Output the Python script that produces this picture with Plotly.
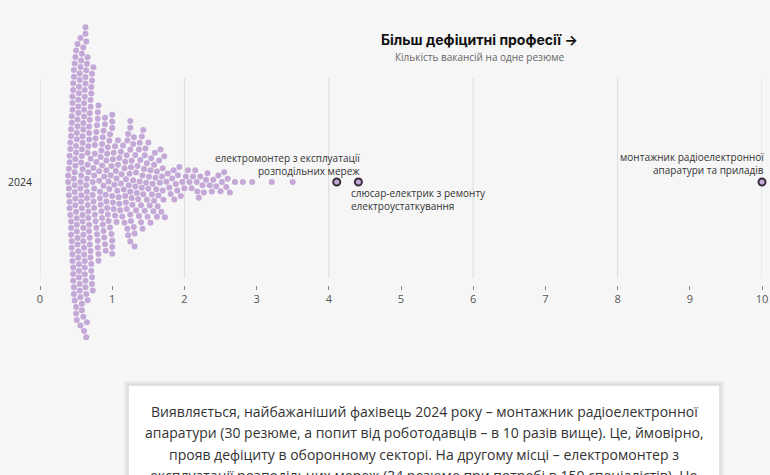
import math
import plotly.graph_objects as go

# ---------------- data ----------------
year_label = "2024"
tick_values = [0, 1, 2, 3, 4, 5, 6, 7, 8, 9, 10]
grid_values = [0, 2, 4, 6, 8, 10]

ratios_low = [
    0.39, 0.39,
    0.40, 0.40, 0.40,
    0.41, 0.41, 0.41, 0.41,
    0.42, 0.42, 0.42,
    0.43, 0.43, 0.43, 0.43, 0.43,
    0.44, 0.44, 0.44, 0.44,
    0.45, 0.45, 0.45, 0.45, 0.45,
    0.46, 0.46, 0.46, 0.46, 0.46,
    0.47, 0.47, 0.47, 0.47, 0.47,
    0.48, 0.48, 0.48, 0.48, 0.48,
    0.49, 0.49, 0.49, 0.49, 0.49,
    0.50, 0.50, 0.50, 0.50, 0.50, 0.50,
    0.51, 0.51, 0.51, 0.51, 0.51, 0.51,
    0.52, 0.52, 0.52, 0.52, 0.52,
    0.53, 0.53, 0.53, 0.53, 0.53,
    0.54, 0.54, 0.54, 0.54, 0.54,
    0.55, 0.55, 0.55, 0.55,
    0.56, 0.56, 0.56, 0.56, 0.56, 0.56,
    0.57, 0.57, 0.57, 0.57, 0.57,
    0.58, 0.58, 0.58, 0.58, 0.58, 0.58,
    0.59, 0.59, 0.59, 0.59, 0.59,
    0.60, 0.60, 0.60, 0.60, 0.60, 0.60, 0.60,
    0.61, 0.61, 0.61, 0.61, 0.61, 0.61,
    0.62, 0.62, 0.62, 0.62, 0.62,
    0.63, 0.63, 0.63, 0.63, 0.63, 0.63,
    0.64, 0.64, 0.64, 0.64, 0.64,
    0.65, 0.65, 0.65, 0.65, 0.65,
]

ratios_mid = [
    0.66, 0.66, 0.66, 0.66, 0.66,
    0.67, 0.67, 0.67, 0.67,
    0.68, 0.68, 0.68, 0.68, 0.68,
    0.69, 0.69, 0.69, 0.69,
    0.70, 0.70, 0.70, 0.70, 0.70,
    0.71, 0.71, 0.71, 0.71,
    0.72, 0.72, 0.72, 0.72,
    0.73, 0.73, 0.73,
    0.74, 0.74, 0.74,
    0.75, 0.75, 0.75,
    0.76, 0.76, 0.76,
    0.77, 0.77,
    0.78, 0.78, 0.78,
    0.79, 0.79,
    0.80, 0.80, 0.80, 0.80,
    0.81, 0.81, 0.81,
    0.82, 0.82,
    0.83, 0.83,
    0.84, 0.84,
    0.85, 0.85,
    0.86, 0.86, 0.86,
    0.87, 0.87,
    0.88, 0.88, 0.88,
    0.89, 0.89,
    0.90, 0.90, 0.90,
    0.91, 0.91,
    0.92, 0.92, 0.92,
    0.93, 0.93,
    0.94, 0.94,
    0.95, 0.95,
    0.96, 0.96,
    0.97, 0.97,
    0.98,
    0.99, 0.99,
    1.00, 1.00, 1.00, 1.00, 1.00, 1.00, 1.00,
    1.01, 1.01,
    1.02, 1.02,
    1.03,
    1.04, 1.04,
    1.05,
    1.06, 1.06,
    1.07,
    1.08, 1.08,
    1.09,
    1.10, 1.10,
    1.11,
    1.12, 1.12,
    1.13,
    1.14,
    1.15,
]

ratios_high = [
    1.16, 1.17, 1.17, 1.18, 1.18, 1.19, 1.19, 1.20, 1.20,
    1.21, 1.21, 1.22, 1.22, 1.23, 1.24,
    1.25, 1.25, 1.25, 1.25, 1.25, 1.25,
    1.26, 1.26, 1.27, 1.27, 1.28, 1.29, 1.29, 1.30, 1.30,
    1.31, 1.31, 1.32, 1.32, 1.33, 1.33, 1.34, 1.35,
    1.36, 1.37, 1.37, 1.38, 1.38, 1.39, 1.40, 1.40,
    1.41, 1.41, 1.42, 1.42, 1.43, 1.43, 1.44, 1.45, 1.45,
    1.46, 1.47, 1.48, 1.48, 1.49, 1.50, 1.50, 1.51, 1.52, 1.53, 1.53, 1.54, 1.55,
    1.56, 1.57, 1.58, 1.58, 1.59, 1.60, 1.61, 1.62, 1.62, 1.63, 1.64, 1.65,
    1.66, 1.67, 1.68, 1.69, 1.70, 1.70, 1.71, 1.72, 1.73, 1.75,
    1.77, 1.79, 1.81, 1.83, 1.85,
    1.86, 1.88, 1.90, 1.91, 1.93, 1.95,
    1.97, 2.00, 2.02, 2.05,
    2.07, 2.10, 2.12, 2.15,
    2.17, 2.18, 2.20, 2.22, 2.25,
    2.27, 2.30, 2.32, 2.35,
    2.38, 2.40, 2.44,
    2.47, 2.50, 2.52, 2.55,
    2.58, 2.60, 2.63,
    2.70, 2.81, 2.94, 3.21, 3.50,
]

highlight_names = [
    "електромонтер з експлуатації<br>розподільних мереж",
    "слюсар-електрик з ремонту<br>електроустаткування",
    "монтажник радіоелектронної<br>апаратури та приладів",
]
highlight_values = [4.41, 4.11, 10.0]

title_text = "Більш дефіцитні професії →"
subtitle_text = "Кількість вакансій на одне резюме"
note_lines = [
    "Виявляється, найбажаніший фахівець 2024 року – монтажник радіоелектронної",
    "апаратури (30 резюме, а попит від роботодавців – в 10 разів вище). Це, ймовірно,",
    "прояв дефіциту в оборонному секторі. На другому місці – електромонтер з",
    "експлуатації розподільних мереж (34 резюме при потребі в 150 спеціалістів). Це",
]

# ---------------- layout constants ----------------
W, H = 770, 475
ML, MR, MT, MB = 40, 8, 20, 125      # plot area tall enough to hold the whole swarm
PLOT_W = W - ML - MR
PLOT_H = H - MT - MB
CENTER_PX = 182                      # pixel row of the "2024" strip
GRID_TOP_PX, GRID_BOT_PX = 78, 278
AXIS_PX = 285                        # pixel row of the x axis ticks
Y_TOP = CENTER_PX - MT               # y data units == pixels
Y_BOT = -(MT + PLOT_H - CENTER_PX)
PX_PER_UNIT = PLOT_W / 10.0
DOT_DIST = 6.6

BG = "#f6f6f6"
DOT = "#c4a9d8"
LABEL_FONT = dict(family="Open Sans", size=10, color="#333")


def dodge(values, dist):
    xs = [v * PX_PER_UNIT for v in values]
    order = sorted(range(len(xs)), key=lambda i: xs[i])
    placed = []
    ys = [0.0] * len(xs)
    for i in order:
        x = xs[i]
        near = [(px, py) for px, py in placed if abs(px - x) < dist]
        cands = [0.0]
        for px, py in near:
            dy = math.sqrt(max(dist * dist - (px - x) ** 2, 0.0))
            cands += [py + dy, py - dy]
        cands.sort(key=lambda c: (abs(c), -c))
        for c in cands:
            if all((px - x) ** 2 + (py - c) ** 2 >= dist * dist - 1e-6 for px, py in near):
                ys[i] = c
                break
        placed.append((x, ys[i]))
    return ys


ratios = ratios_low + ratios_mid + ratios_high
offsets = dodge(ratios, DOT_DIST)

fig = go.Figure()

fig.add_trace(go.Scatter(
    x=ratios, y=offsets, mode="markers",
    marker=dict(size=6, color=DOT, line=dict(width=0)),
    cliponaxis=False, hoverinfo="x", showlegend=False,
))

fig.add_trace(go.Scatter(
    x=highlight_values, y=[0] * len(highlight_values), mode="markers",
    marker=dict(size=7, color=DOT, line=dict(width=2, color="#3a2d3c")),
    cliponaxis=False, hoverinfo="x", showlegend=False,
))

# even gridlines
for g in grid_values:
    fig.add_shape(type="line", xref="x", yref="y", x0=g, x1=g,
                  y0=CENTER_PX - GRID_BOT_PX, y1=CENTER_PX - GRID_TOP_PX,
                  line=dict(color="#dcdcdc", width=1), layer="below")

# labels for the highlighted professions (one annotation per line)
label_specs = [
    # (value, xanchor, xshift, first-line offset above centre in px)
    (highlight_values[0], "right", 4, 24),
    (highlight_values[1], "left", 12, -11),
    (highlight_values[2], "right", 4, 25),
]
for name, (val, xa, xs, first) in zip(highlight_names, label_specs):
    for j, part in enumerate(name.split("<br>")):
        fig.add_annotation(x=val, y=first - j * 12.5, xref="x", yref="y",
                           text=part, showarrow=False, xanchor=xa, yanchor="middle",
                           xshift=xs, font=LABEL_FONT)


def px_to_paper_x(px):
    return (px - ML) / PLOT_W


def px_to_paper_y(py):
    return (MT + PLOT_H - py) / PLOT_H


# title + subtitle
fig.add_annotation(x=px_to_paper_x(479), y=px_to_paper_y(39), xref="paper", yref="paper",
                   text="<b>" + title_text + "</b>", showarrow=False,
                   xanchor="center", yanchor="middle",
                   font=dict(family="Inter", size=14, color="#111", weight=900))
fig.add_annotation(x=px_to_paper_x(480), y=px_to_paper_y(57), xref="paper", yref="paper",
                   text=subtitle_text, showarrow=False,
                   xanchor="center", yanchor="middle",
                   font=dict(family="Open Sans", size=10, color="#666"))

# text box
fig.add_shape(type="rect", xref="paper", yref="paper",
              x0=px_to_paper_x(126), x1=px_to_paper_x(722),
              y0=px_to_paper_y(510), y1=px_to_paper_y(383),
              line=dict(color="#e6e6e6", width=3), fillcolor="white", layer="below")
fig.add_shape(type="rect", xref="paper", yref="paper",
              x0=px_to_paper_x(128), x1=px_to_paper_x(720),
              y0=px_to_paper_y(510), y1=px_to_paper_y(385),
              line=dict(color="#c9c9c9", width=1), fillcolor="white", layer="below")
for k, line in enumerate(note_lines):
    fig.add_annotation(x=px_to_paper_x(424), y=px_to_paper_y(411 + k * 21.5),
                       xref="paper", yref="paper", text=line, showarrow=False,
                       xanchor="center", yanchor="middle",
                       font=dict(family="Open Sans", size=14, color="#333"))

fig.update_layout(
    width=W, height=H,
    margin=dict(l=ML, r=MR, t=MT, b=MB, pad=0, autoexpand=False),
    paper_bgcolor=BG, plot_bgcolor=BG,
    showlegend=False,
    xaxis=dict(range=[0, 10], tickvals=tick_values,
               ticktext=[str(t) for t in tick_values],
               anchor="free", position=(MT + PLOT_H - AXIS_PX) / PLOT_H,
               showgrid=False, zeroline=False, showline=False, automargin=False,
               ticks="outside", ticklen=4, tickwidth=1, tickcolor="#888",
               tickfont=dict(family="Open Sans", size=11, color="#555"),
               fixedrange=True),
    yaxis=dict(range=[Y_BOT, Y_TOP], tickvals=[0], ticktext=[year_label],
               showgrid=False, zeroline=False, showline=False, ticks="",
               automargin=False, ticklabelstandoff=7,
               tickfont=dict(family="Open Sans", size=10.5, color="#333"),
               fixedrange=True),
)

fig.write_html(
    "out.html",
    config={"displayModeBar": False},
    post_script="document.body.style.margin='0';document.body.style.background='" + BG + "';",
)
